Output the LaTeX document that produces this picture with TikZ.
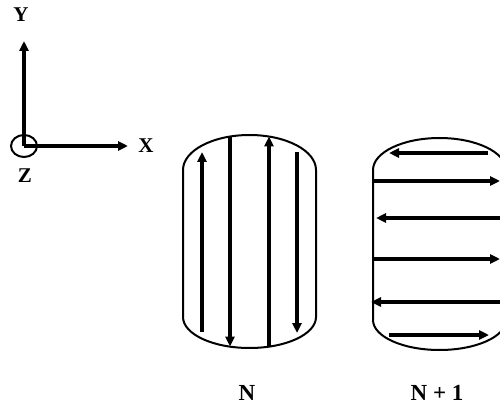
\documentclass[tikz,border=0pt]{standalone}
\usepackage{fontspec}
\setmainfont{Liberation Serif}
\usetikzlibrary{arrows.meta}
\begin{document}
\begin{tikzpicture}[x=1pt,y=1pt,
  outline/.style={line width=2pt},
  flow/.style={line width=3.4pt,-{Triangle[length=10pt,width=9pt]}},
  lbl/.style={font=\bfseries\fontsize{21}{21}\selectfont, inner sep=0pt},
  biglbl/.style={font=\bfseries\fontsize{23}{23}\selectfont, inner sep=0pt}]
\useasboundingbox (0,0) rectangle (500,410);
\clip (0,0) rectangle (500,410);
% axes
\coordinate (O) at (24,264);
\coordinate (Ytip) at (24,369);
\coordinate (Xtip) at (128,264);
\draw[flow] (O) -- (Ytip);
\draw[flow] (O) -- (Xtip);
\draw[outline] (O) ellipse[x radius=13, y radius=11];
\node[lbl] (ylab) at (21,395) {Y};
\node[lbl] (xlab) at (146,264) {X};
\node[lbl] (zlab) at (25,234) {Z};
% left cylinder (N)
\draw[outline] (183,93) -- (183,240) arc[start angle=180,end angle=0,x radius=66.5,y radius=35]
  -- (316,93) arc[start angle=0,end angle=-180,x radius=66.5,y radius=31] -- cycle;
\coordinate (a1s) at (202,78);  \coordinate (a1e) at (202,258);
\coordinate (a2s) at (230,273.5); \coordinate (a2e) at (230,63.5);
\coordinate (a3s) at (269,63.5); \coordinate (a3e) at (269,273.5);
\coordinate (a4s) at (297,258); \coordinate (a4e) at (297,77);
\draw[flow] (a1s) -- (a1e);
\draw[flow] (a2s) -- (a2e);
\draw[flow] (a3s) -- (a3e);
\draw[flow] (a4s) -- (a4e);
% right cylinder (N+1)
\draw[outline] (373,90) -- (373,240) arc[start angle=180,end angle=0,x radius=66.5,y radius=32]
  -- (506,90) arc[start angle=0,end angle=-180,x radius=66.5,y radius=30] -- cycle;
\coordinate (b1s) at (488,257); \coordinate (b1e) at (389,257);
\coordinate (b2s) at (373,229); \coordinate (b2e) at (500,229);
\coordinate (b3s) at (506,192); \coordinate (b3e) at (376,192);
\coordinate (b4s) at (373,151); \coordinate (b4e) at (500,151);
\coordinate (b5s) at (506,108); \coordinate (b5e) at (371,108);
\coordinate (b6s) at (389,75);  \coordinate (b6e) at (489,75);
\draw[flow] (b1s) -- (b1e);
\draw[flow] (b2s) -- (b2e);
\draw[flow] (b3s) -- (b3e);
\draw[flow] (b4s) -- (b4e);
\draw[flow] (b5s) -- (b5e);
\draw[flow] (b6s) -- (b6e);
% labels
\node[biglbl] (nlab) at (247,17) {N};
\node[biglbl] (n1lab) at (437,17) {N + 1};
\end{tikzpicture}
\end{document}
